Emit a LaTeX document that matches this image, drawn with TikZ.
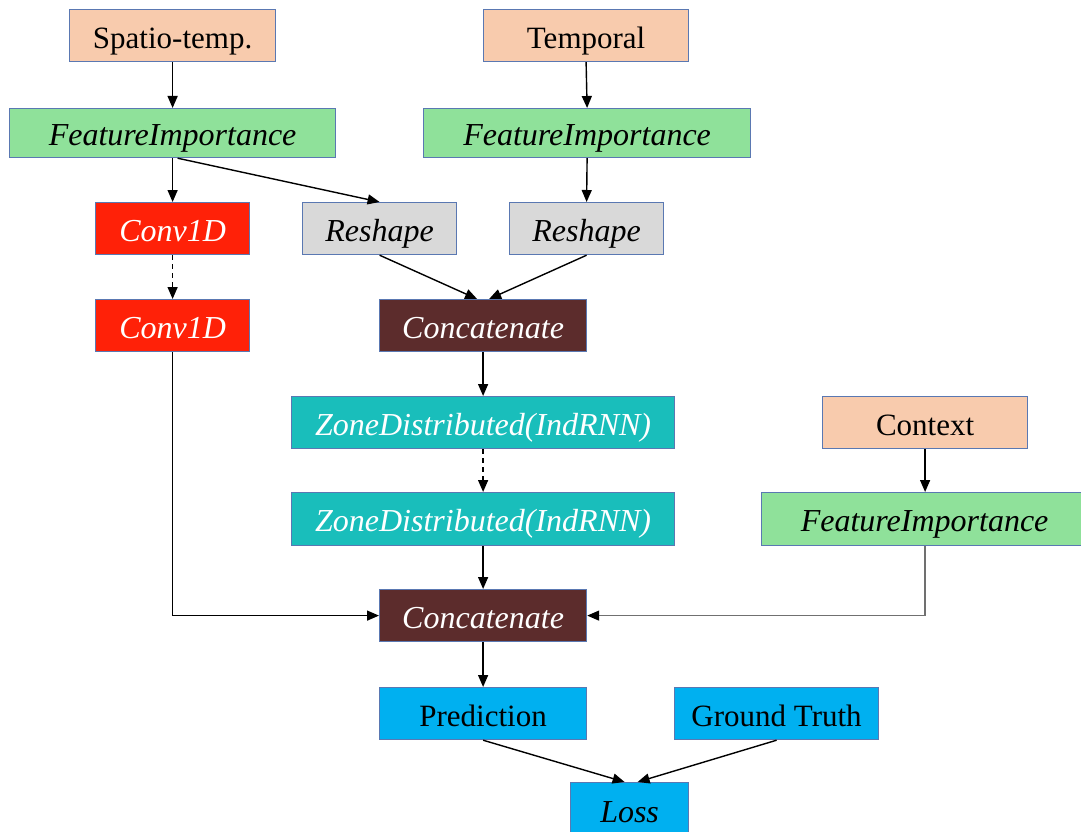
\documentclass[tikz,border=0pt]{standalone}
\usepackage{fontspec}
\setmainfont{Liberation Serif}
\usetikzlibrary{arrows.meta,calc}
\definecolor{peach}{HTML}{F8CBAD}
\definecolor{fgreen}{HTML}{8FE19A}
\definecolor{cred}{HTML}{FF2108}
\definecolor{rgray}{HTML}{D9D9D9}
\definecolor{cbrown}{HTML}{5C2C2C}
\definecolor{zteal}{HTML}{19BEBB}
\definecolor{pblue}{HTML}{00B0F0}
\definecolor{bord}{HTML}{5A78B2}
\definecolor{lgray}{HTML}{707070}
\tikzset{
  box/.style={draw=bord, line width=1.2pt, inner sep=0pt, anchor=north west,
    text height=25pt, text depth=0pt,
    font=\fontsize{31}{36}\selectfont},
  itbox/.style={box, font=\fontsize{32}{36}\selectfont\itshape},
  conn/.style={line width=1.4pt, -{Triangle[length=12pt,width=10pt]}},
  dconn/.style={conn, dash pattern=on 5pt off 4pt},
}
\newcommand{\bx}[9]{%
  \node[#2, fill=#3, text=#4, minimum width=#7-#5, minimum height=#8-#6] (#1) at (#5,#6) {#9};}
\begin{document}
\begin{tikzpicture}[x=1pt,y=-1pt]
\useasboundingbox (0,0) rectangle (1081,832);
\begin{scope}
\clip (0,0) rectangle (1081,832);
\bx{sp}{box}{peach}{black}{69}{9}{275}{61}{Spatio-temp.}
\bx{te}{box}{peach}{black}{483}{9}{688}{61}{Temporal}
\bx{fa}{itbox}{fgreen}{black}{9}{108}{335}{157}{FeatureImportance}
\bx{fb}{itbox}{fgreen}{black}{423}{108}{750}{157}{FeatureImportance}
\bx{ca}{itbox}{cred}{white}{95}{202}{249}{254}{Conv1D}
\bx{ra}{itbox}{rgray}{black}{302}{202}{456}{254}{Reshape}
\bx{rb}{itbox}{rgray}{black}{509}{202}{663}{254}{Reshape}
\bx{cb}{itbox}{cred}{white}{95}{299}{249}{351}{Conv1D}
\bx{ka}{itbox}{cbrown}{white}{379}{299}{586}{351}{Concatenate}
\bx{za}{itbox}{zteal}{white}{291}{396}{674}{448}{ZoneDistributed(IndRNN)}
\bx{cx}{box}{peach}{black}{822}{396}{1027}{448}{Context}
\bx{zb}{itbox}{zteal}{white}{291}{492}{674}{545}{ZoneDistributed(IndRNN)}
\bx{fc}{itbox}{fgreen}{black}{761}{492}{1087}{545}{FeatureImportance}
\bx{kb}{itbox}{cbrown}{white}{379}{589}{586}{641}{Concatenate}
\bx{pr}{box}{pblue}{black}{379}{687}{586}{739}{Prediction}
\bx{gt}{box}{pblue}{black}{674}{687}{878}{739}{Ground Truth}
\bx{lo}{itbox}{pblue}{black}{570}{782}{688}{836}{Loss}
\end{scope}
\draw[conn] (sp.south) -- (fa.north);
\draw[conn] (te.south) -- (fb.north);
\draw[conn] (fa.south) -- (ca.north);
\draw[conn] ($(fa.south)+(5,0)$) -- (ra.north);
\draw[conn] (fb.south) -- (rb.north);
\draw[dconn] (ca.south) -- (cb.north);
\draw[conn] (ra.south) -- ($(ka.north)+(-6,0)$);
\draw[conn] (rb.south) -- ($(ka.north)+(6,0)$);
\draw[conn] (ka.south) -- (za.north);
\draw[dconn] (za.south) -- (zb.north);
\draw[conn] (zb.south) -- (kb.north);
\draw[conn] (cb.south) |- (kb.west);
\draw[conn] (cx.south) -- (cx.south |- fc.north);
\draw[conn, lgray, -{Triangle[length=12pt,width=10pt,color=black]}] (cx.south |- fc.south) |- (kb.east);
\draw[conn] (kb.south) -- (pr.north);
\draw[conn] (pr.south) -- ($(lo.north)+(-5,0)$);
\draw[conn] (gt.south) -- ($(lo.north)+(8,0)$);
\end{tikzpicture}
\end{document}
